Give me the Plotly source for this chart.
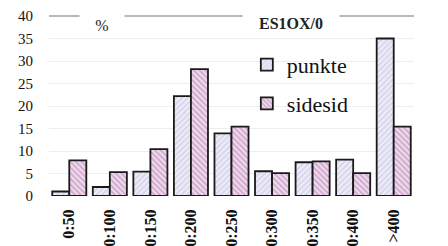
import plotly.graph_objects as go

categories = ["0:50", "50:100", "100:150", "150:200", "200:250", "250:300", "300:350", "350:400", ">400"]
punkte = [1.0, 2.0, 5.4, 22.2, 13.9, 5.5, 7.5, 8.1, 35.0]
sidesid = [7.9, 5.3, 10.4, 28.2, 15.4, 5.1, 7.7, 5.1, 15.4]
y_ticks = [0, 5, 10, 15, 20, 25, 30, 35, 40]

SERIF = "Liberation Serif"

fig = go.Figure()
fig.add_trace(go.Bar(
    x=categories, y=punkte, name="punkte", legendgroup="a",
    marker=dict(color="#ecebf7", line=dict(color="#1a1a1a", width=1.8),
                pattern=dict(shape="/", fgcolor="#b4b0d4", bgcolor="#ecebf7", size=4, solidity=0.3)),
))
fig.add_trace(go.Bar(
    x=categories, y=sidesid, name="sidesid", legendgroup="b",
    marker=dict(color="#ecd5ea", line=dict(color="#1a1a1a", width=1.8),
                pattern=dict(shape="\\", fgcolor="#a0649a", bgcolor="#efd8ec", size=4, solidity=0.35)),
))

fig.add_shape(type="line", xref="paper", yref="paper", x0=0, x1=1, y0=1, y1=1,
              line=dict(color="#a0a0a0", width=1.5), layer="above")

fig.add_annotation(text="%", xref="paper", yref="paper", x=0.145, y=0.95,
                   xanchor="center", yanchor="middle",
                   showarrow=False, bgcolor="white", font=dict(family=SERIF, size=16, color="#222"),
                   width=42, height=20)
fig.add_annotation(text="<b>ES1OX/0</b>", xref="paper", yref="paper", x=0.663, y=0.961,
                   xanchor="center", yanchor="middle",
                   showarrow=False, bgcolor="white", font=dict(family=SERIF, size=16, color="#222"),
                   width=94, height=18)

fig.update_layout(
    width=440, height=238,
    margin=dict(l=41, r=34, t=8, b=49.5),
    paper_bgcolor="white", plot_bgcolor="white",
    barmode="group", bargap=0.16, bargroupgap=0,
    showlegend=True,
    legend=dict(x=0.542, y=0.845, xanchor="left", yanchor="top",
                font=dict(family=SERIF, size=22, color="#111"),
                bgcolor="rgba(0,0,0,0)", itemwidth=30, tracegroupgap=7),
    xaxis=dict(type="category", range=[-0.5, 8.5], showline=False, showgrid=False,
               tickangle=-90, ticks="outside", ticklen=6, tickcolor="rgba(0,0,0,0)",
               tickfont=dict(family=SERIF, size=16, color="#111"), zeroline=False,
               automargin=False, tickprefix="<b>", ticksuffix="</b>"),
    yaxis=dict(range=[0, 40], tickvals=y_ticks, showline=False, showgrid=True,
               gridcolor="#eeeeee", gridwidth=1, zeroline=False,
               ticks="outside", ticklen=12, tickcolor="rgba(0,0,0,0)",
               tickfont=dict(family=SERIF, size=15, color="#111"),
               tickprefix="<b>", ticksuffix="</b>", automargin=False),
)

fig.write_html("out.html")
